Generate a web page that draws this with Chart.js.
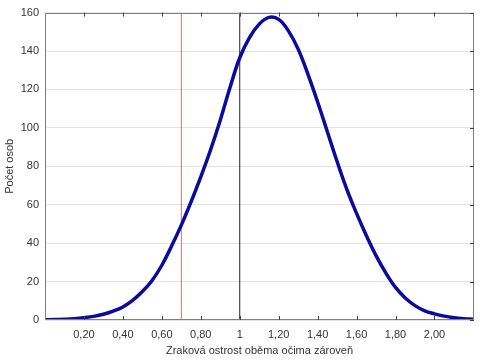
<!DOCTYPE html>
<html>
<head>
<meta charset="utf-8">
<script src="https://cdn.jsdelivr.net/npm/chart.js@4/dist/chart.umd.min.js"></script>
<style>
  html, body { margin: 0; padding: 0; background: #ffffff; }
  #wrap { width: 480px; height: 361px; }
</style>
</head>
<body>
<div id="wrap"><canvas id="c" width="480" height="361"></canvas></div>
<script>
// Data
const xValues = [0.00,0.05,0.10,0.15,0.20,0.25,0.30,0.35,0.40,0.45,0.50,0.55,0.60,0.65,0.70,0.75,0.80,0.85,0.90,0.95,1.00,1.05,1.10,1.15,1.20,1.25,1.30,1.35,1.40,1.45,1.50,1.55,1.60,1.65,1.70,1.75,1.80,1.85,1.90,1.95,2.00,2.05,2.10,2.15,2.20];
const countValues = [0.1,0.2,0.4,0.7,1.2,1.9,3.0,4.6,6.8,10.2,14.8,20.6,28.5,38.5,49.4,61.5,74.5,88.5,104.0,121.0,136.5,147.0,154.0,157.5,156.5,150.5,141.0,128.0,113.5,98.0,82.5,68.0,55.5,44.0,33.5,24.5,17.0,11.5,7.5,4.8,3.2,2.0,1.2,0.7,0.4];
const redLineX = 0.7;
const blackLineX = 1.0;
const xTickValues = [0.2,0.4,0.6,0.8,1.0,1.2,1.4,1.6,1.8,2.0];
const xTickLabels = ['0,20','0,40','0,60','0,80','1','1,20','1,40','1,60','1,80','2,00'];
const yTickValues = [0,20,40,60,80,100,120,140,160];
const xTitle = 'Zraková ostrost oběma očima zároveň';
const yTitle = 'Počet osob';

const curveData = xValues.map((x, i) => ({ x: x, y: countValues[i] }));

const frameAndTicks = {
  id: 'frameAndTicks',
  afterDatasetsDraw(chart) {
    const ctx = chart.ctx;
    const a = chart.chartArea;
    const xs = chart.scales.x, ys = chart.scales.y;
    ctx.save();
    ctx.strokeStyle = '#808080';
    ctx.lineWidth = 1;
    ctx.strokeRect(Math.round(a.left) + 0.5, Math.round(a.top) + 0.5, Math.round(a.right - a.left) - 1, Math.round(a.bottom - a.top) - 1);
    ctx.strokeStyle = '#404040';
    ctx.beginPath();
    xTickValues.forEach(v => {
      const px = Math.round(xs.getPixelForValue(v)) + 0.5;
      ctx.moveTo(px, a.bottom); ctx.lineTo(px, a.bottom - 4);
      ctx.moveTo(px, a.top); ctx.lineTo(px, a.top + 4);
    });
    yTickValues.forEach(v => {
      const py = Math.round(ys.getPixelForValue(v)) + 0.5;
      ctx.moveTo(a.right, py); ctx.lineTo(a.right - 4, py);
    });
    ctx.stroke();
    ctx.restore();
  }
};

new Chart(document.getElementById('c'), {
  type: 'line',
  data: {
    datasets: [
      {
        data: [{ x: redLineX, y: 0 }, { x: redLineX, y: 160 }],
        borderColor: '#c47a72', borderWidth: 1, pointRadius: 0, tension: 0, order: 3
      },
      {
        data: [{ x: blackLineX, y: 0 }, { x: blackLineX, y: 160 }],
        borderColor: '#222222', borderWidth: 1, pointRadius: 0, tension: 0, order: 2
      },
      {
        data: curveData,
        borderColor: '#0a0a9e', borderWidth: 3.5, pointRadius: 0,
        tension: 0.4, order: 1
      }
    ]
  },
  options: {
    responsive: false,
    animation: false,
    events: [],
    layout: { padding: { top: 12, right: 6, left: 0, bottom: 0 } },
    plugins: { legend: { display: false }, tooltip: { enabled: false } },
    scales: {
      x: {
        type: 'linear', min: 0, max: 2.203,
        afterBuildTicks(scale) { scale.ticks = xTickValues.map(v => ({ value: v })); },
        afterFit(scale) { scale.height = 41; },
        ticks: {
          autoSkip: false, maxRotation: 0, padding: 0,
          color: '#333333', font: { family: 'Liberation Sans', size: 11 },
          callback(value) { const i = xTickValues.indexOf(value); return i >= 0 ? xTickLabels[i] : ''; }
        },
        grid: { display: false },
        border: { display: false },
        title: { display: true, text: xTitle, color: '#333333', font: { family: 'Liberation Sans', size: 11 }, padding: { top: 3, bottom: 3 } }
      },
      y: {
        min: 0, max: 160,
        afterBuildTicks(scale) { scale.ticks = yTickValues.map(v => ({ value: v })); },
        afterFit(scale) { scale.width = 45; },
        ticks: { padding: 6, color: '#333333', font: { family: 'Liberation Sans', size: 11 } },
        grid: { color: '#e4e4e4', lineWidth: 1, drawTicks: false },
        border: { display: false },
        title: { display: true, text: yTitle, color: '#333333', font: { family: 'Liberation Sans', size: 11 }, padding: { top: 3, bottom: 6 } }
      }
    }
  },
  plugins: [frameAndTicks]
});
</script>
</body>
</html>
